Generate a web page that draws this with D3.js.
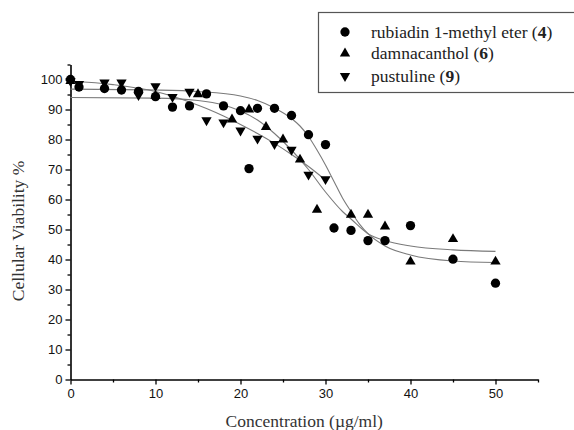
<!DOCTYPE html>
<html>
<head>
<meta charset="utf-8">
<script src="https://cdn.jsdelivr.net/npm/d3@7/dist/d3.min.js"></script>
<style>
  body { margin: 0; background: #fff; }
</style>
</head>
<body>
<div id="chart"></div>
<script>
// values
const xTicks = [0, 10, 20, 30, 40, 50];
const xMinor = [5, 15, 25, 35, 45, 55];
const yTicks = [0, 10, 20, 30, 40, 50, 60, 70, 80, 90, 100];
const yMinor = [5, 15, 25, 35, 45, 55, 65, 75, 85, 95, 105];

// rubiadin 1-methyl eter (4) - circles
const rubX = [0, 1, 4, 6, 8, 10, 12, 14, 16, 18, 20, 21, 22, 24, 26, 28, 30, 31, 33, 35, 37, 40, 45, 50];
const rubY = [100, 97.5, 97, 96.5, 96, 94.3, 90.8, 91.2, 95.2, 91.2, 89.6, 70.3, 90.4, 90.4, 88, 81.6, 78.3, 50.5, 49.7, 46.3, 46.3, 51.3, 40.1, 32.1];

// damnacanthol (6) - up triangles
const damX = [0, 10, 15, 19, 21, 23, 25, 27, 29, 33, 35, 37, 40, 45, 50];
const damY = [99.5, 94.6, 95.1, 86.7, 90, 84.2, 80, 73.3, 56.6, 54.9, 54.9, 51, 39.3, 46.8, 39.3];

// pustuline (9) - down triangles
const pusX = [0, 1, 4, 6, 8, 10, 12, 14, 16, 18, 20, 22, 24, 26, 28, 30];
const pusY = [99.5, 98.5, 99, 99, 94.8, 97.8, 94.2, 95.9, 86.4, 85.7, 83, 80.3, 78.5, 76.6, 68.3, 66.8];

// fitted curves, points
const rubFitX = [0, 10, 15, 20, 22, 24, 26, 27, 28, 29, 30, 31, 32, 33, 34, 35, 37, 40, 45, 50];
const rubFitY = [96.8, 96.5, 96, 94.5, 93, 90.5, 87, 84.5, 81, 76.5, 71.5, 66, 60.5, 56, 51.8, 48.6, 44.5, 41.5, 39.5, 39];
const damFitX = [0, 10, 15, 18, 20, 22, 24, 26, 28, 30, 32, 33, 35, 37, 40, 45, 50];
const damFitY = [94, 93.8, 93, 91.5, 89.5, 86.5, 82, 76.5, 70, 62.5, 56, 53.5, 48.6, 46.3, 44.5, 43.2, 42.7];
const pusFitX = [0, 5, 10, 14, 16, 18, 20, 22, 24, 26, 28, 30];
const pusFitY = [99.5, 98.3, 96, 92.5, 90.3, 87.8, 85, 82, 78.7, 75, 71, 66.5];

const legendNames = ["rubiadin 1-methyl eter ", "damnacanthol ", "pustuline "];
const legendNums = ["4", "6", "9"];

const W = 574, H = 430;
const svg = d3.select("#chart").append("svg")
  .attr("width", W)
  .attr("height", H);

const x = d3.scaleLinear().domain([0, 55]).range([70.5, 538]);
const y = d3.scaleLinear().domain([0, 105]).range([379.5, 64.5]);

const tickFont = "'Liberation Sans', Arial, sans-serif";
const serif = "'Liberation Serif', 'Times New Roman', serif";

// axes
svg.append("g")
  .attr("transform", `translate(0,${y(0)})`)
  .call(d3.axisBottom(x).tickValues(xTicks).tickSize(5).tickSizeOuter(0).tickPadding(4));
svg.append("g")
  .attr("transform", `translate(0,${y(0)})`)
  .call(d3.axisBottom(x).tickValues(xMinor).tickSize(3).tickSizeOuter(0).tickFormat(""))
  .select(".domain").remove();

svg.append("g")
  .attr("transform", `translate(${x(0)},0)`)
  .call(d3.axisLeft(y).tickValues(yTicks).tickSize(5).tickSizeOuter(0).tickPadding(3));
svg.append("g")
  .attr("transform", `translate(${x(0)},0)`)
  .call(d3.axisLeft(y).tickValues(yMinor).tickSize(3).tickSizeOuter(0).tickFormat(""))
  .select(".domain").remove();

svg.selectAll(".domain").attr("stroke", "#000").attr("stroke-width", 1.6);
svg.selectAll(".tick line").attr("stroke", "#000").attr("stroke-width", 1.3);
svg.selectAll(".tick text")
  .attr("font-family", tickFont)
  .attr("font-size", 13)
  .attr("fill", "#111");

// fitted curves
const line = d3.line()
  .x(d => x(d[0]))
  .y(d => y(d[1]))
  .curve(d3.curveMonotoneX);

[[rubFitX, rubFitY], [damFitX, damFitY], [pusFitX, pusFitY]].forEach(([xs, ys]) => {
  svg.append("path")
    .datum(xs.map((v, i) => [v, ys[i]]))
    .attr("fill", "none")
    .attr("stroke", "#7a7a7a")
    .attr("stroke-width", 1.1)
    .attr("d", line);
});

// markers
const circleSym = d3.symbol().type(d3.symbolCircle).size(68);
const triSym = d3.symbol().type(d3.symbolTriangle).size(46);

function drawSeries(xs, ys, shape) {
  svg.append("g").selectAll("path")
    .data(xs.map((v, i) => [v, ys[i]]))
    .enter()
    .append("path")
    .attr("d", shape === "circle" ? circleSym : triSym)
    .attr("fill", "#000")
    .attr("transform", d => `translate(${x(d[0])},${y(d[1])})` + (shape === "down" ? " rotate(180)" : ""));
}
drawSeries(pusX, pusY, "down");
drawSeries(damX, damY, "up");
drawSeries(rubX, rubY, "circle");

// axis titles
svg.append("text")
  .attr("x", (x(0) + x(55)) / 2)
  .attr("y", 427)
  .attr("text-anchor", "middle")
  .attr("font-family", serif)
  .attr("font-size", 17.5)
  .attr("fill", "#333")
  .text("Concentration (\u00b5g/ml)");

svg.append("text")
  .attr("transform", `translate(24,231) rotate(-90)`)
  .attr("text-anchor", "middle")
  .attr("font-family", serif)
  .attr("font-size", 17.5)
  .attr("fill", "#333")
  .text("Cellular Viability %");

// legend (box runs off the right edge as in the picture)
const lg = svg.append("g");
lg.append("rect")
  .attr("x", 318.5).attr("y", 12.5)
  .attr("width", 270).attr("height", 80)
  .attr("fill", "#fff")
  .attr("stroke", "#555")
  .attr("stroke-width", 1.2);

const shapes = ["circle", "up", "down"];
const rowY = [32, 53.5, 76];
shapes.forEach((s, i) => {
  lg.append("path")
    .attr("d", s === "circle" ? circleSym : triSym)
    .attr("fill", "#000")
    .attr("transform", `translate(345,${rowY[i]})` + (s === "down" ? " rotate(180)" : ""));
  const t = lg.append("text")
    .attr("x", 371)
    .attr("y", rowY[i] + 5.5)
    .attr("font-family", serif)
    .attr("font-size", 17.5)
    .attr("fill", "#222");
  t.append("tspan").text(legendNames[i] + "(");
  t.append("tspan").attr("font-weight", "bold").text(legendNums[i]);
  t.append("tspan").text(")");
});
</script>
</body>
</html>
